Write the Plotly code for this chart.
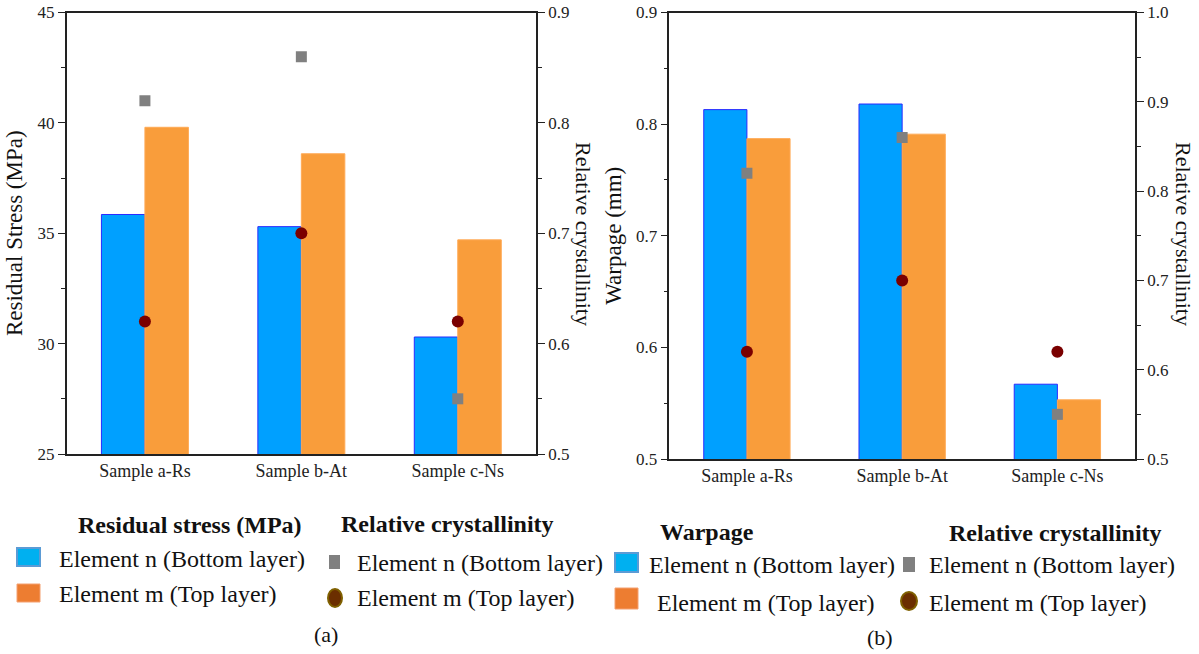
import plotly.graph_objects as go

W, H = 1199, 654

categories = ["Sample a-Rs", "Sample b-At", "Sample c-Ns"]
stress_bottom = [35.85, 35.3, 30.3]
stress_top = [39.8, 38.6, 34.7]
warp_bottom = [0.813, 0.818, 0.567]
warp_top = [0.787, 0.791, 0.553]
cryst_bottom = [0.82, 0.86, 0.55]
cryst_top = [0.62, 0.70, 0.62]

FONT = "Liberation Serif"
BLUE = "#00A0FF"
BLUE_LINE = "#2A2AFF"
ORANGE = "#F99D3B"
ORANGE_LINE = "#FFAA55"
GRAY = "#808080"
DARKRED = "#7A0000"

def px(x):
    return x / W

def py(y):
    return 1 - y / H

fig = go.Figure()

bw = 0.278
# Panel (a)
fig.add_trace(go.Bar(x=categories, y=stress_bottom, width=bw, offset=-bw,
                     marker=dict(color=BLUE, line=dict(color=BLUE_LINE, width=1)),
                     xaxis="x", yaxis="y", showlegend=False))
fig.add_trace(go.Bar(x=categories, y=stress_top, width=bw, offset=0,
                     marker=dict(color=ORANGE, line=dict(color=ORANGE_LINE, width=1)),
                     xaxis="x", yaxis="y", showlegend=False))
fig.add_trace(go.Scatter(x=categories, y=cryst_bottom, mode="markers",
                         marker=dict(symbol="square", size=11, color=GRAY),
                         xaxis="x", yaxis="y2", showlegend=False))
fig.add_trace(go.Scatter(x=categories, y=cryst_top, mode="markers",
                         marker=dict(symbol="circle", size=12, color=DARKRED),
                         xaxis="x", yaxis="y2", showlegend=False))
# Panel (b)
fig.add_trace(go.Bar(x=categories, y=warp_bottom, width=bw, offset=-bw,
                     marker=dict(color=BLUE, line=dict(color=BLUE_LINE, width=1)),
                     xaxis="x2", yaxis="y3", showlegend=False))
fig.add_trace(go.Bar(x=categories, y=warp_top, width=bw, offset=0,
                     marker=dict(color=ORANGE, line=dict(color=ORANGE_LINE, width=1)),
                     xaxis="x2", yaxis="y3", showlegend=False))
fig.add_trace(go.Scatter(x=categories, y=cryst_bottom, mode="markers",
                         marker=dict(symbol="square", size=11, color=GRAY),
                         xaxis="x2", yaxis="y4", showlegend=False))
fig.add_trace(go.Scatter(x=categories, y=cryst_top, mode="markers",
                         marker=dict(symbol="circle", size=12, color=DARKRED),
                         xaxis="x2", yaxis="y4", showlegend=False))

tickfont = dict(family=FONT, size=17, color="#222222")
xtickfont = dict(family=FONT, size=18, color="#222222")
titlefont = dict(family=FONT, size=23, color="#111111")

def xax(domain, anchor):
    return dict(domain=domain, anchor=anchor, range=[-0.5, 2.5], type="category",
                showline=True, linecolor="#222222", linewidth=1.5, mirror=True,
                ticks="", showgrid=False, zeroline=False, tickfont=xtickfont,
                automargin=False, fixedrange=True)

def yax(domain, rng, dtick, minor, side="left", overlaying=None, anchor=None, title=None):
    d = dict(range=rng, dtick=dtick, tick0=rng[0], side=side,
             showline=True, linecolor="#222222", linewidth=1.5,
             ticks="outside", ticklen=7, tickwidth=1, tickcolor="#222222",
             minor=dict(ticks="outside", dtick=minor, ticklen=4, tickcolor="#222222", showgrid=False),
             showgrid=False, zeroline=False, tickfont=tickfont, fixedrange=True,
             automargin=False)
    if domain is not None:
        d["domain"] = domain
    if overlaying:
        d["overlaying"] = overlaying
    if anchor:
        d["anchor"] = anchor
    if title:
        d["title"] = dict(text=title, font=titlefont, standoff=8)
    return d

ya_dom = [py(454), py(12.5)]
yb_dom = [py(459), py(12.5)]

fig.update_layout(
    width=W, height=H,
    margin=dict(l=0, r=0, t=0, b=0, pad=0, autoexpand=False),
    paper_bgcolor="white", plot_bgcolor="white",
    barmode="overlay",
    xaxis=xax([px(66.7), px(536)], "y"),
    yaxis=yax(ya_dom, [25, 45], 5, 2.5, anchor="x", title="Residual Stress (MPa)"),
    yaxis2=yax(None, [0.5, 0.9], 0.1, 0.05, side="right", overlaying="y", anchor="x"),
    xaxis2=xax([px(669.3), px(1135)], "y3"),
    yaxis3=yax(yb_dom, [0.5, 0.9], 0.1, 0.05, anchor="x2", title="Warpage (mm)"),
    yaxis4=yax(None, [0.5, 1.0], 0.1, 0.05, side="right", overlaying="y3", anchor="x2"),
)
fig.layout.yaxis2.tickformat = ".1f"
fig.layout.yaxis3.tickformat = ".1f"
fig.layout.yaxis4.tickformat = ".1f"

annotations = []
shapes = []

def text(x, y, s, size=24, bold=False, xanchor="left"):
    annotations.append(dict(x=px(x), y=py(y), xref="paper", yref="paper",
                            text=("<b>%s</b>" % s) if bold else s, showarrow=False,
                            xanchor=xanchor, yanchor="middle",
                            font=dict(family=FONT, size=size, color="#111111")))

def rect(x0, y0, x1, y1, fill, line, lw=2):
    shapes.append(dict(type="rect", xref="paper", yref="paper",
                       x0=px(x0), x1=px(x1), y0=py(y1), y1=py(y0),
                       fillcolor=fill, line=dict(color=line, width=lw)))

def ellipse(x0, y0, x1, y1, fill, line, lw=2):
    shapes.append(dict(type="circle", xref="paper", yref="paper",
                       x0=px(x0), x1=px(x1), y0=py(y1), y1=py(y0),
                       fillcolor=fill, line=dict(color=line, width=lw)))

# right-side axis titles (reading top to bottom)
for xc in (584, 1184):
    annotations.append(dict(x=px(xc), y=py(234), xref="paper", yref="paper",
                            text="Relative crystallinity", textangle=90, showarrow=False,
                            xanchor="center", yanchor="middle",
                            font=dict(family=FONT, size=22, color="#111111")))

# Legend (a)
text(76, 525, "Residual stress (MPa)", bold=True)
text(339, 524, "Relative crystallinity", bold=True)
text(57, 559, "Element n (Bottom layer)")
text(57, 594, "Element m (Top layer)")
text(355, 563, "Element n (Bottom layer)")
text(355, 598, "Element m (Top layer)")
text(326, 634, "(a)", size=22, xanchor="center")
rect(17, 548, 40, 566, "#00B0F0", "#5B9BD5")
rect(17, 584, 40, 602, "#ED7D31", "#F4A070", lw=1)
rect(329, 555, 340, 569, GRAY, GRAY, lw=0)
ellipse(328, 589, 342, 607, "#6B2E00", "#7F6000")

# Legend (b)
text(658, 532, "Warpage", bold=True)
text(947, 533, "Relative crystallinity", bold=True)
text(647, 565, "Element n (Bottom layer)")
text(655, 603, "Element m (Top layer)")
text(927, 565, "Element n (Bottom layer)")
text(927, 603, "Element m (Top layer)")
text(880, 637, "(b)", size=22, xanchor="center")
rect(615, 553, 638, 572, "#00B0F0", "#5B9BD5")
rect(615, 588, 638, 609, "#ED7D31", "#F4A070", lw=1)
rect(903, 557, 915, 572, GRAY, GRAY, lw=0)
ellipse(901, 592, 917, 610, "#6B2E00", "#7F6000")

fig.update_layout(annotations=annotations, shapes=shapes)

fig.write_html("out.html",
               config={"displayModeBar": False},
               post_script="document.body.style.margin='0';document.body.style.overflow='hidden';")
